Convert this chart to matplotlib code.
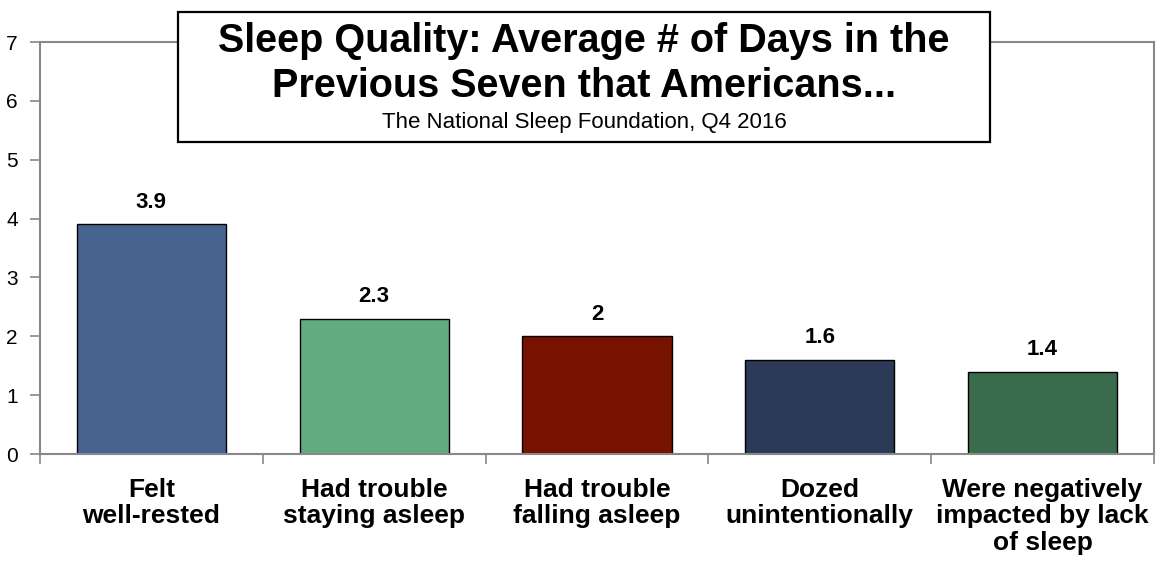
import matplotlib
matplotlib.use("Agg")
import matplotlib.pyplot as plt
from matplotlib.patches import Rectangle
import numpy as np

plt.rcParams['font.family'] = ['Liberation Sans', 'DejaVu Sans']

categories = ["Felt\nwell-rested", "Had trouble\nstaying asleep", "Had trouble\nfalling asleep",
              "Dozed\nunintentionally", "Were negatively\nimpacted by lack\nof sleep"]
values = [3.9, 2.3, 2.0, 1.6, 1.4]
value_labels = ["3.9", "2.3", "2", "1.6", "1.4"]
colors = ["#46648F", "#62AB80", "#771100", "#2A3A57", "#3A6B4C"]
yticks = [0, 1, 2, 3, 4, 5, 6, 7]
title_lines = ["Sleep Quality: Average # of Days in the", "Previous Seven that Americans..."]
subtitle = "The National Sleep Foundation, Q4 2016"

W, H = 1159, 561
fig = plt.figure(figsize=(W / 100, H / 100), dpi=100)
L, R, T, B = 40, 1154, 42, 454
ax = fig.add_axes([L / W, 1 - B / H, (R - L) / W, (B - T) / H])

x = np.arange(len(values))
ax.bar(x, values, width=0.67, color=colors, edgecolor="black", linewidth=1.0, zorder=2)
for xi, v, lab in zip(x, values, value_labels):
    ax.text(xi, v + 0.2, lab, ha="center", va="bottom", fontsize=16, fontweight="bold")

ax.set_xlim(-0.5, len(values) - 0.5)
ax.set_ylim(0, 7)
ax.set_yticks(yticks)
ax.set_yticklabels([str(t) for t in yticks], fontsize=15)
ax.set_xticks(x)
ax.set_xticklabels(categories, fontsize=19, fontweight="bold", linespacing=1.15)
ax.set_xticks(np.arange(-0.5, len(values)), minor=True)
ax.tick_params(axis="x", which="major", length=0, pad=17)
ax.tick_params(axis="x", which="minor", length=7, color="#888888", width=1.2)
ax.tick_params(axis="y", length=7, color="#888888", width=1.2, pad=9)
for s in ax.spines.values():
    s.set_color("#888888")
    s.set_linewidth(1.5)

# Title box
bx0, bx1, by0, by1 = 178, 990, 12, 142
fig.patches.append(Rectangle((bx0 / W, 1 - by1 / H), (bx1 - bx0) / W, (by1 - by0) / H,
                             transform=fig.transFigure, facecolor="white", edgecolor="black",
                             linewidth=1.6, zorder=5))
cx = (bx0 + bx1) / 2 / W
fig.text(cx, 1 - 41 / H, title_lines[0], ha="center", va="center", fontsize=28.5,
         fontweight="bold", zorder=6)
fig.text(cx, 1 - 86 / H, title_lines[1], ha="center", va="center", fontsize=28.5,
         fontweight="bold", zorder=6)
fig.text(cx, 1 - 122 / H, subtitle, ha="center", va="center", fontsize=16, zorder=6)

fig.savefig("out.png", dpi=100)
